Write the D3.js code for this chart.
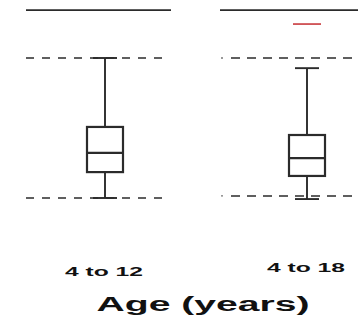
<!DOCTYPE html>
<html>
<head>
<meta charset="utf-8">
<script src="https://cdn.jsdelivr.net/npm/d3@7"></script>
<style>
  html, body { margin: 0; padding: 0; background: #fff; }
  svg { display: block; }
  text { font-family: "Liberation Sans", Arial, sans-serif; font-weight: bold; fill: #111; }
</style>
</head>
<body>
<svg id="chart" width="358" height="321"></svg>
<script>
// ---- data (z-score-like units) ----
const categories = ["4 to 12", "4 to 18"];
const whiskerHigh = [2.0, 1.71];
const q3 = [0.03, -0.2];
const median = [-0.71, -0.86];
const q1 = [-1.26, -1.37];
const whiskerLow = [-2.0, -2.03];
const refUpper = [2.0, 2.0];
const refLower = [-2.0, -1.94];
const topLine = [3.37, 3.37];
const redMark = [null, 2.97];
const xTitle = "Age (years)";

// ---- layout ----
const svg = d3.select("#chart");
const y = d3.scaleLinear().domain([-2, 2]).range([198, 58]);
const x = d3.scalePoint().domain(categories).range([105, 307]);
const panelLeft = [26, 220];
const panelRight = [171, 360];
const dashLeft = [26, 231];
const dashRight = [165, 360];
const dashPattern = ["8,8", "9,7"];
const leadDot = [false, true];
const labelY = [276, 272];
const boxW = 36, capW = 24;
const stroke = "#2b2b2b";

categories.forEach((c, i) => {
  const cx = x(c);
  const g = svg.append("g");
  // top solid line
  g.append("line")
    .attr("x1", panelLeft[i]).attr("x2", panelRight[i])
    .attr("y1", y(topLine[i])).attr("y2", y(topLine[i]))
    .attr("stroke", stroke).attr("stroke-width", 1.7);
  // red mark
  if (redMark[i] !== null) {
    g.append("line")
      .attr("x1", cx - 14).attr("x2", cx + 14)
      .attr("y1", y(redMark[i])).attr("y2", y(redMark[i]))
      .attr("stroke", "#c8383c").attr("stroke-width", 1.6);
  }
  // dashed reference lines
  [refUpper[i], refLower[i]].forEach(v => {
    g.append("line")
      .attr("x1", dashLeft[i]).attr("x2", dashRight[i])
      .attr("y1", y(v)).attr("y2", y(v))
      .attr("stroke", stroke).attr("stroke-width", 1.5)
      .attr("stroke-dasharray", dashPattern[i]);
    if (leadDot[i]) {
      g.append("line")
        .attr("x1", panelLeft[i] + 1).attr("x2", panelLeft[i] + 3)
        .attr("y1", y(v)).attr("y2", y(v))
        .attr("stroke", "#777").attr("stroke-width", 1.3);
    }
  });
  // whiskers
  g.append("line")
    .attr("x1", cx).attr("x2", cx)
    .attr("y1", y(whiskerHigh[i])).attr("y2", y(q3[i]))
    .attr("stroke", stroke).attr("stroke-width", 1.9);
  g.append("line")
    .attr("x1", cx).attr("x2", cx)
    .attr("y1", y(q1[i])).attr("y2", y(whiskerLow[i]))
    .attr("stroke", stroke).attr("stroke-width", 1.9);
  [whiskerHigh[i], whiskerLow[i]].forEach(v => {
    g.append("line")
      .attr("x1", cx - capW / 2).attr("x2", cx + capW / 2)
      .attr("y1", y(v)).attr("y2", y(v))
      .attr("stroke", stroke).attr("stroke-width", 1.9);
  });
  // box
  g.append("rect")
    .attr("x", cx - boxW / 2).attr("width", boxW)
    .attr("y", y(q3[i])).attr("height", y(q1[i]) - y(q3[i]))
    .attr("fill", "#fff").attr("stroke", stroke).attr("stroke-width", 2.2);
  g.append("line")
    .attr("x1", cx - boxW / 2).attr("x2", cx + boxW / 2)
    .attr("y1", y(median[i])).attr("y2", y(median[i]))
    .attr("stroke", stroke).attr("stroke-width", 2.2);
  // category label
  svg.append("text")
    .attr("x", cx - 1).attr("y", labelY[i])
    .attr("text-anchor", "middle")
    .attr("font-size", 13)
    .attr("textLength", 78).attr("lengthAdjust", "spacingAndGlyphs")
    .text(c);
});

svg.append("text")
  .attr("x", 203).attr("y", 311)
  .attr("text-anchor", "middle")
  .attr("font-size", 20)
  .attr("textLength", 213).attr("lengthAdjust", "spacingAndGlyphs")
  .text(xTitle);
</script>
</body>
</html>
